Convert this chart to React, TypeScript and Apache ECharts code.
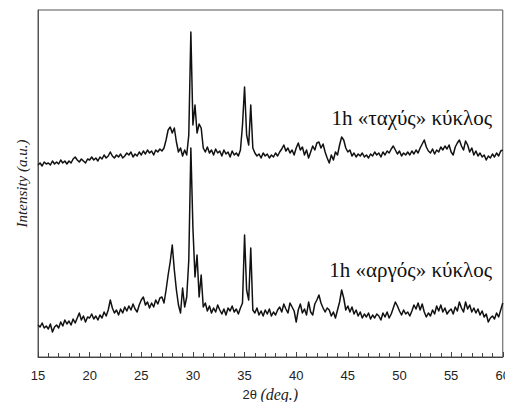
import React, { useEffect, useRef } from "react";
import * as echarts from "echarts";

// 2θ sampling grid (deg), 15 → 60 in 0.2° steps
const startAngle = 15;
const stepAngle = 0.2;

// Intensity (a.u.) – fast cycle ("ταχύς")
const fastCycle = [
  192, 194, 191, 195, 193, // 15
  194, 192, 196, 193, 195, // 16
  193, 197, 194, 196, 193, // 17
  196, 194, 198, 200, 197, // 18
  195, 198, 196, 194, 198, // 19
  197, 200, 197, 199, 196, // 20
  200, 198, 202, 199, 201, // 21
  205, 201, 199, 202, 200, // 22
  203, 199, 201, 204, 202, // 23
  205, 200, 203, 201, 205, // 24
  202, 206, 203, 207, 204, // 25
  206, 202, 207, 205, 208, // 26
  206, 209, 217, 227, 230, // 27
  224, 229, 215, 205, 209, // 28
  201, 207, 202, 222, 325, // 29
  232, 252, 224, 233, 229, // 30
  209, 205, 210, 204, 207, // 31
  202, 208, 204, 206, 201, // 32
  207, 203, 205, 200, 206, // 33
  202, 204, 201, 207, 232, // 34
  270, 222, 212, 252, 209, // 35
  204, 201, 203, 199, 204, // 36
  201, 203, 199, 202, 200, // 37
  204, 201, 205, 208, 212, // 38
  206, 209, 204, 207, 202, // 39
  209, 214, 207, 210, 202, // 40
  207, 199, 205, 211, 207, // 41
  214, 215, 209, 213, 205, // 42
  199, 194, 202, 197, 205, // 43
  202, 212, 220, 217, 209, // 44
  205, 207, 201, 204, 200, // 45
  203, 201, 204, 200, 202, // 46
  199, 203, 201, 205, 202, // 47
  204, 200, 205, 202, 206, // 48
  204, 208, 211, 207, 203, // 49
  206, 201, 204, 202, 205, // 50
  202, 206, 203, 207, 204, // 51
  209, 213, 217, 210, 206, // 52
  204, 208, 203, 207, 205, // 53
  210, 207, 211, 208, 212, // 54
  205, 202, 210, 214, 217, // 55
  211, 207, 216, 212, 205, // 56
  209, 202, 206, 201, 204, // 57
  200, 202, 197, 201, 199, // 58
  203, 200, 204, 201, 206, // 59
  207, // 60
];

// Intensity (a.u.) – slow cycle ("αργός")
const slowCycle = [
  32, 30, 34, 29, 31, // 15
  28, 33, 25, 30, 32, // 16
  29, 35, 31, 37, 33, // 17
  36, 32, 38, 34, 39, // 18
  44, 37, 41, 35, 40, // 19
  39, 43, 38, 41, 37, // 20
  42, 39, 45, 41, 47, // 21
  57, 49, 44, 47, 42, // 22
  48, 44, 50, 46, 51, // 23
  47, 53, 48, 45, 52, // 24
  57, 60, 52, 55, 49, // 25
  54, 50, 57, 53, 59, // 26
  60, 54, 67, 82, 95, // 27
  112, 87, 67, 52, 44, // 28
  69, 50, 60, 97, 209, // 29
  129, 80, 102, 60, 82, // 30
  50, 54, 46, 51, 44, // 31
  49, 45, 52, 47, 43, // 32
  48, 42, 49, 46, 51, // 33
  45, 48, 43, 49, 54, // 34
  122, 67, 57, 109, 47, // 35
  44, 49, 42, 46, 41, // 36
  47, 43, 48, 41, 45, // 37
  42, 47, 50, 45, 53, // 38
  48, 44, 54, 50, 46, // 39
  35, 47, 53, 44, 48, // 40
  42, 55, 45, 42, 53, // 41
  57, 62, 54, 49, 45, // 42
  49, 47, 41, 45, 39, // 43
  47, 55, 67, 59, 47, // 44
  51, 45, 50, 43, 47, // 45
  41, 45, 39, 43, 40, // 46
  44, 38, 42, 39, 43, // 47
  41, 37, 44, 40, 45, // 48
  39, 43, 49, 55, 51, // 49
  46, 42, 47, 43, 45, // 50
  41, 46, 52, 48, 54, // 51
  47, 53, 45, 40, 44, // 52
  41, 47, 43, 51, 46, // 53
  52, 45, 49, 43, 46, // 54
  48, 43, 50, 46, 55, // 55
  49, 45, 55, 48, 52, // 56
  45, 49, 44, 48, 42, // 57
  46, 40, 43, 35, 39, // 58
  41, 38, 44, 40, 47, // 59
  54, // 60
];

const seriesLabels = ["1h «ταχύς» κύκλος", "1h «αργός» κύκλος"];

const toPairs = (vals: number[]) =>
  vals.map((v, i) => [+(startAngle + i * stepAngle).toFixed(2), v]);

export default function App() {
  const ref = useRef<HTMLDivElement>(null);
  useEffect(() => {
    if (!ref.current) return;
    const chart = echarts.init(ref.current, null, { renderer: "svg" });
    const lineStyle = { color: "#111", width: 1.5, join: "round" };
    const serif = "Liberation Serif, Times New Roman, serif";
    const sans = "Liberation Sans, Arial, sans-serif";
    chart.setOption({
      animation: false,
      backgroundColor: "#fff",
      grid: {
        left: 38,
        right: 9,
        top: 10,
        bottom: 53,
        show: true,
        borderColor: "#555",
        borderWidth: 1,
      },
      xAxis: {
        type: "value",
        min: 15,
        max: 60,
        interval: 5,
        axisLine: { show: true, lineStyle: { color: "#444", width: 1 } },
        axisTick: { show: true, inside: true, length: 5, lineStyle: { color: "#444" } },
        minorTick: { show: true, splitNumber: 5, length: 4, lineStyle: { color: "#444" } },
        splitLine: { show: false },
        axisLabel: {
          color: "#222",
          fontSize: 13,
          fontFamily: sans,
          margin: 12,
        },
        name: "{a|2θ} {b|(deg.)}",
        nameLocation: "middle",
        nameGap: 29,
        nameTextStyle: {
          rich: {
            a: { fontSize: 13, fontFamily: sans, color: "#222" },
            b: { fontSize: 16, fontStyle: "italic", fontFamily: serif, color: "#222" },
          },
        },
      },
      yAxis: {
        type: "value",
        min: 0,
        max: 347,
        axisLine: { show: true, lineStyle: { color: "#555" } },
        axisTick: { show: false },
        axisLabel: { show: false },
        splitLine: { show: false },
        name: "Intensity (a.u.)",
        nameLocation: "middle",
        nameGap: 9,
        nameTextStyle: {
          fontSize: 15,
          fontStyle: "italic",
          fontFamily: serif,
          color: "#222",
        },
      },
      series: [
        {
          type: "line",
          name: seriesLabels[0],
          data: toPairs(fastCycle),
          showSymbol: false,
          symbol: "none",
          lineStyle,
        },
        {
          type: "line",
          name: seriesLabels[1],
          data: toPairs(slowCycle),
          showSymbol: false,
          symbol: "none",
          lineStyle,
        },
      ],
      graphic: [
        {
          type: "text",
          right: 21,
          top: 107,
          style: {
            text: seriesLabels[0],
            fontSize: 21,
            fontFamily: serif,
            fill: "#111",
          },
        },
        {
          type: "text",
          right: 21,
          top: 259,
          style: {
            text: seriesLabels[1],
            fontSize: 21,
            fontFamily: serif,
            fill: "#111",
          },
        },
      ],
    });
    return () => chart.dispose();
  }, []);
  return <div ref={ref} style={{ width: 513, height: 410, margin: -8 }} />;
}
